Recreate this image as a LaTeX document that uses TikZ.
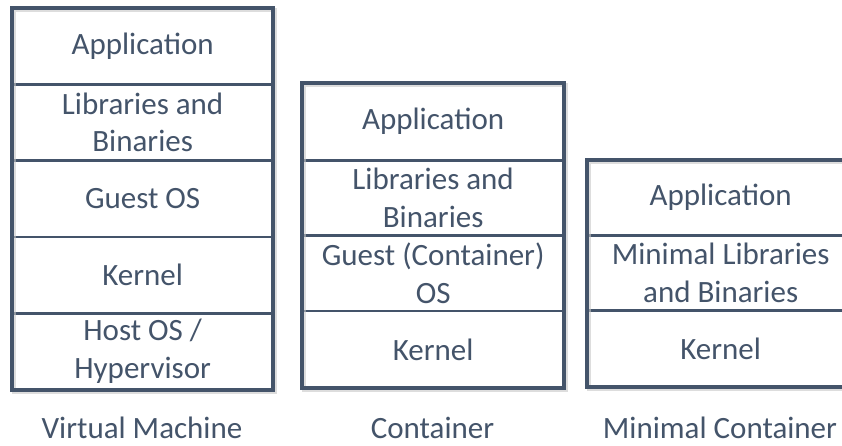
\documentclass[tikz,border=0pt]{standalone}
\usepackage{fontspec}
\setmainfont{Carlito}
\definecolor{slate}{HTML}{44546A}
\tikzset{
  layer/.style={draw=slate, line width=1.3pt, anchor=north west, inner sep=0pt,
    align=center, text=slate, font=\fontsize{31}{37.5}\selectfont},
  frame/.style={draw=slate, line width=4pt},
  shade/.style={draw=black!22, line width=4pt, opacity=0.6},
  caption/.style={anchor=base, inner sep=0pt, text depth=0pt, text=slate,
    font=\fontsize{31}{37.5}\selectfont}
}
\begin{document}
\begin{tikzpicture}[x=1pt, y=-1pt]
  \clip (0,0) rectangle (842,446);
  \fill[white] (0,0) rectangle (842,446);

  % Virtual machine stack
  \node[layer, minimum width=260, minimum height=75] (vm1) at (12,8) {Application};
  \node[layer, minimum width=260, minimum height=75] (vm2) at (vm1.south west) {Libraries and\\Binaries};
  \node[layer, minimum width=260, minimum height=75] (vm3) at (vm2.south west) {Guest OS};
  \node[layer, minimum width=260, minimum height=75] (vm4) at (vm3.south west) {Kernel};
  \node[layer, minimum width=260, minimum height=75] (vm5) at (vm4.south west) {Host OS /\\Hypervisor};

  % Container stack
  \node[layer, minimum width=261, minimum height=76] (ct1) at (302,83) {Application};
  \node[layer, minimum width=261, minimum height=74] (ct2) at (ct1.south west) {Libraries and\\Binaries};
  \node[layer, minimum width=261, minimum height=74] (ct3) at (ct2.south west) {Guest (Container)\\OS};
  \node[layer, minimum width=261, minimum height=76] (ct4) at (ct3.south west) {Kernel};

  % Minimal container stack
  \node[layer, minimum width=266, minimum height=74] (mc1) at (587,160) {Application};
  \node[layer, minimum width=266, minimum height=74] (mc2) at (mc1.south west) {Minimal Libraries\\and Binaries};
  \node[layer, minimum width=266, minimum height=75] (mc3) at (mc2.south west) {Kernel};

  % soft shadows under the outer frames
  \draw[shade] ([shift={(1.5,2)}]vm1.north west) rectangle ([shift={(1.5,2)}]vm5.south east);
  \draw[shade] ([shift={(1.5,2)}]ct1.north west) rectangle ([shift={(1.5,2)}]ct4.south east);
  \draw[shade] ([shift={(1.5,2)}]mc1.north west) rectangle ([shift={(1.5,2)}]mc3.south east);

  % outer frames
  \draw[frame] (vm1.north west) rectangle (vm5.south east);
  \draw[frame] (ct1.north west) rectangle (ct4.south east);
  \draw[frame] (mc1.north west) rectangle (mc3.south east);

  % captions
  \node[caption] (vmcap) at (142,438) {Virtual Machine};
  \node[caption] (ctcap) at (432.5,438) {Container};
  \node[caption] (mccap) at (720,438) {Minimal Container};
\end{tikzpicture}
\end{document}
